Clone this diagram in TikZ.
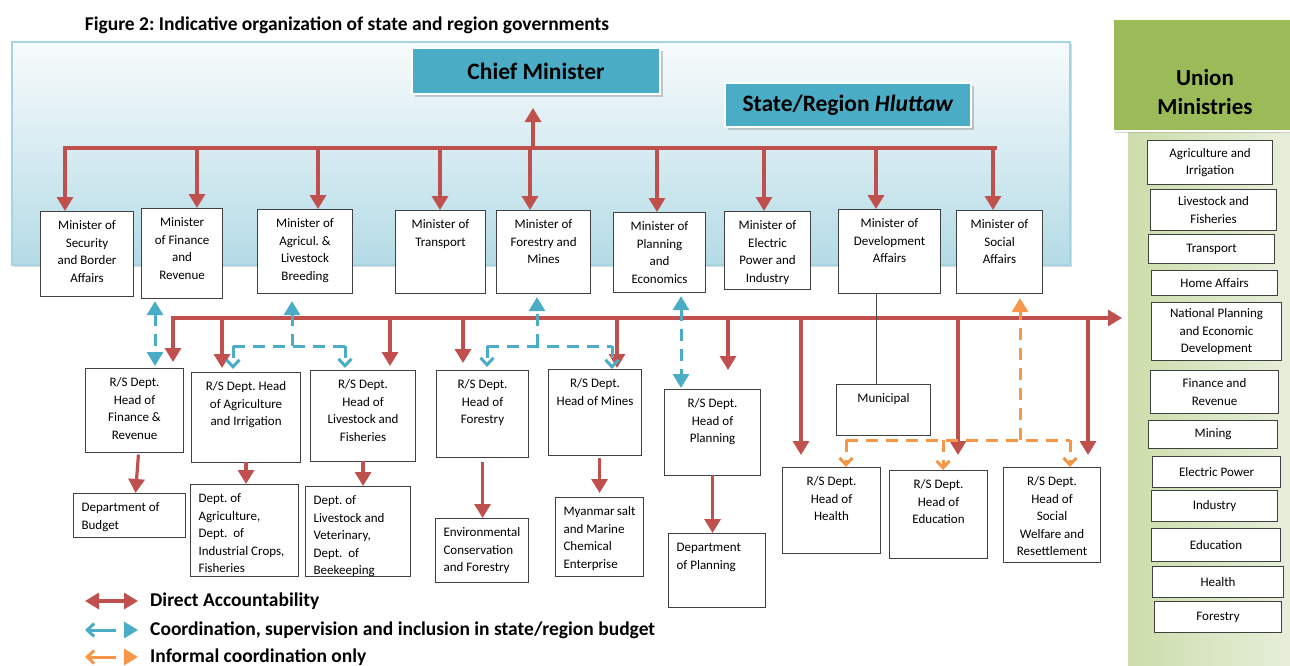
\documentclass[tikz,border=0pt]{standalone}
\usepackage{fontspec}
\setmainfont{Carlito}
\usetikzlibrary{arrows.meta,shadows}

\definecolor{accred}{HTML}{C0504D}
\definecolor{accblue}{HTML}{4BACC6}
\definecolor{accorange}{HTML}{F79646}
\definecolor{accgreen}{HTML}{9BBB59}
\definecolor{paneltop}{HTML}{F8FBFC}
\definecolor{panelbot}{HTML}{B4DBE6}
\definecolor{paneledge}{HTML}{A5D5E2}
\definecolor{colleft}{HTML}{CCDDAA}
\definecolor{colright}{HTML}{E8EFDD}

% Text oben im Kasten (Breite, Hoehe, Text)
\newcommand{\toptext}[3]{\parbox[t][#2pt][t]{#1pt}{\centering\strut #3}}
\newcommand{\toptextl}[3]{\parbox[t][#2pt][t]{#1pt}{\raggedright\strut #3}}

\begin{document}
\frenchspacing
\begin{tikzpicture}[x=1pt,y=-1pt,>={Triangle[width=16pt,length=14pt]}]
  \useasboundingbox (0,0) rectangle (1290,665);
  \clip (0,0) rectangle (1290,665);

  \tikzstyle{box}=[draw=black!75, line width=1.1pt, fill=white, anchor=north west, inner xsep=4pt, inner ysep=6pt, font=\fontsize{13}{17.5}\selectfont]
  \tikzstyle{subbox}=[box, inner xsep=8pt]
  \tikzstyle{unionbox}=[box, inner sep=1pt, align=center]
  \tikzstyle{headbox}=[draw=white, line width=2pt, fill=accblue, drop shadow={opacity=0.4, shadow xshift=3pt, shadow yshift=-3pt}, font=\fontsize{23.5}{26}\selectfont\bfseries]
  \tikzstyle{legend}=[anchor=west, inner sep=0pt, font=\fontsize{19.5}{22}\selectfont\bfseries]
  \tikzstyle{redline}=[draw=accred, line width=3.2pt, line cap=rect]
  \tikzstyle{bluedash}=[draw=accblue, line width=3pt, dash pattern=on 12pt off 8pt]
  \tikzstyle{orangedash}=[draw=accorange, line width=3pt, dash pattern=on 12pt off 8pt]
  \tikzstyle{barb}=[-{Straight Barb[width=13pt,length=7pt]}]

  % Titel
  \node[font=\fontsize{19.5}{22}\selectfont\bfseries] (title) at (347,25) {Figure 2: Indicative organization of state and region governments};

  % Hintergrund Regierung
  \path[shade, top color=paneltop, bottom color=panelbot, draw=paneledge, line width=1.5pt, drop shadow={opacity=0.3}] (12,42) rectangle (1070,265);
  \node[headbox, minimum width=248pt, minimum height=46pt] (chief) at (536,71) {Chief Minister};
  \node[headbox, minimum width=246pt, minimum height=44pt] (hluttaw) at (848,105) {State/Region \textit{Hluttaw}};

  % Union Ministries
  \node[anchor=north west, minimum width=170pt, minimum height=540pt, inner sep=0pt, shade, left color=colleft, right color=colright] (unionCol) at (1128,130) {};
  \node[anchor=north west, draw=white, line width=2pt, fill=accgreen, drop shadow={opacity=0.3}, minimum width=190pt, minimum height=112pt] (unionHead) at (1112,18) {};
  \node[align=center, font=\fontsize{23}{29}\selectfont\bfseries] (unionText) at (1205,92) {Union\\Ministries};

  \node[unionbox, minimum width=125pt, minimum height=44pt] (uAgr) at (1147,140) {Agriculture and\\Irrigation};
  \node[unionbox, minimum width=126pt, minimum height=41pt] (uLiv) at (1150,189) {Livestock and\\Fisheries};
  \node[unionbox, minimum width=126pt, minimum height=29pt] (uTra) at (1148,234) {Transport};
  \node[unionbox, minimum width=126pt, minimum height=25pt] (uHom) at (1151,270) {Home Affairs};
  \node[unionbox, minimum width=130pt, minimum height=58pt] (uNat) at (1151,302) {National Planning\\and Economic\\Development};
  \node[unionbox, minimum width=128pt, minimum height=43pt] (uFin) at (1150,370) {Finance and\\Revenue};
  \node[unionbox, minimum width=129pt, minimum height=28pt] (uMin) at (1148,420) {Mining};
  \node[unionbox, minimum width=128pt, minimum height=31pt] (uEle) at (1152,456) {Electric Power};
  \node[unionbox, minimum width=126pt, minimum height=31pt] (uInd) at (1151,490) {Industry};
  \node[unionbox, minimum width=129pt, minimum height=33pt] (uEdu) at (1151,528) {Education};
  \node[unionbox, minimum width=131pt, minimum height=31pt] (uHea) at (1152,566) {Health};
  \node[unionbox, minimum width=127pt, minimum height=31pt] (uFor) at (1154,601) {Forestry};

  % Minister
  \node[box] (secMin) at (40,211) {\toptext{85}{73}{Minister of\\Security\\and Border\\Affairs}};
  \node[box] (finMin) at (141,208) {\toptext{73}{78}{Minister\\of Finance\\and\\Revenue}};
  \node[box] (agrMin) at (257,209) {\toptext{87}{72}{Minister of\\Agricul. \&\\Livestock\\Breeding}};
  \node[box] (traMin) at (395,210) {\toptext{82}{71}{Minister of\\Transport}};
  \node[box] (forMin) at (496,210) {\toptext{86}{71}{Minister of\\Forestry and\\Mines}};
  \node[box] (plaMin) at (613,212) {\toptext{84}{68}{Minister of\\Planning\\and\\Economics}};
  \node[box] (eleMin) at (724,211) {\toptext{78}{66}{Minister of\\Electric\\Power and\\Industry}};
  \node[box] (devMin) at (838,209) {\toptext{94}{72}{Minister of\\Development\\Affairs}};
  \node[box] (socMin) at (956,210) {\toptext{78}{71}{Minister of\\Social\\Affairs}};

  % R/S Abteilungen
  \node[box] (rsFin) at (85,368) {\toptext{90}{72}{R/S Dept.\\Head of\\Finance \&\\Revenue}};
  \node[box] (rsAgr) at (191,372) {\toptext{101}{78}{R/S Dept. Head\\of Agriculture\\and Irrigation}};
  \node[box] (rsLiv) at (310,370) {\toptext{97}{79}{R/S Dept.\\Head of\\Livestock and\\Fisheries}};
  \node[box] (rsFor) at (436,370) {\toptext{84}{75}{R/S Dept.\\Head of\\Forestry}};
  \node[box] (rsMin) at (548,369) {\toptext{85}{74}{R/S Dept.\\Head of Mines}};
  \node[box] (rsPla) at (664,389) {\toptext{88}{74}{R/S Dept.\\Head of\\Planning}};
  \node[box] (municipal) at (836,384) {\toptext{86}{39}{Municipal}};
  \node[box] (rsHea) at (782,467) {\toptext{90}{74}{R/S Dept.\\Head of\\Health}};
  \node[box] (rsEdu) at (889,470) {\toptext{90}{76}{R/S Dept.\\Head of\\Education}};
  \node[box] (rsSoc) at (1003,467) {\toptext{89}{83}{R/S Dept.\\Head of\\Social\\Welfare and\\Resettlement}};

  % Unterabteilungen
  \node[subbox] (budget) at (73,493) {\toptextl{96}{32}{Department~of\\Budget}};
  \node[subbox] (agrDept) at (190,484) {\toptextl{92}{80}{Dept.~of\\Agriculture,\\Dept.~~of\\Industrial~Crops,\\Fisheries}};
  \node[subbox] (livDept) at (305,486) {\toptextl{89}{78}{Dept.~of\\Livestock~and\\Veterinary,\\Dept.~~of\\Beekeeping}};
  \node[subbox] (envDept) at (435,518) {\toptextl{77}{52}{Environmental\\Conservation\\and~Forestry}};
  \node[subbox] (saltDept) at (555,497) {\toptextl{72}{67}{Myanmar~salt\\and~Marine\\Chemical\\Enterprise}};
  \node[subbox] (plaDept) at (668,533) {\toptextl{81}{62}{Department\\of~Planning}};

  % Verbindung oben
  \coordinate (t1) at (65,148);
  \coordinate (t9) at (995,148);
  \coordinate (cmFoot) at (533,148);
  \draw[redline] (t1) -- (t9);
  \draw[redline, ->, shorten >=13pt] (cmFoot) -- (cmFoot |- chief.south);
  \foreach \x/\n in {65/secMin, 197/finMin, 318/agrMin, 440/traMin, 530/forMin, 657/plaMin, 764/eleMin, 876/devMin, 993/socMin}
    \draw[redline, ->] (\x,148) -- (\x,148 |- \n.north);

  % Verbindung unten
  \coordinate (b0) at (173,318);
  \draw[redline, ->, shorten >=6pt] (b0) -- (b0 -| unionCol.west);
  \foreach \x/\n/\s in {173/rsFin/6pt, 222/rsAgr/4pt, 390/rsLiv/4pt, 463/rsFor/7pt, 617/rsMin/1pt, 728/rsPla/19pt, 801/rsHea/12pt, 958/rsEdu/15pt, 1088/rsSoc/12pt}
    \draw[redline, ->, shorten >=\s] (\x,318) -- (\x,318 |- \n.north);

  \draw[redline, ->, shorten <=3pt] ([xshift=4pt]rsFin.south) -- ([xshift=6pt]budget.north);
  \draw[redline, ->] (rsAgr.south) -- (rsAgr.south |- agrDept.north);
  \draw[redline, ->] (rsLiv.south) -- (rsLiv.south |- livDept.north);
  \draw[redline, ->, shorten <=5pt] (rsFor.south) -- (rsFor.south |- envDept.north);
  \draw[redline, ->, shorten <=3pt, shorten >=4pt] (rsMin.south -| saltDept.north) -- (saltDept.north);
  \draw[redline, ->] (rsPla.south) -- (rsPla.south |- plaDept.north);

  % Koordination (blau)
  \draw[bluedash, <->, shorten <=2pt, shorten >=2pt] (155,300 |- finMin.south) -- (155,300 |- rsFin.north);

  \coordinate (aJ) at (292,346);
  \coordinate (aL) at (233,346);
  \coordinate (aR) at (345,346);
  \draw[bluedash, ->, shorten >=7pt] (aJ) -- (aJ |- agrMin.south);
  \draw[bluedash] (aL) -- (aR);
  \draw[bluedash, barb, shorten >=3pt] (aL) -- (aL |- rsAgr.north);
  \draw[bluedash, barb, shorten >=2pt] (aR) -- (aR |- rsLiv.north);

  \coordinate (fJ) at (537,346);
  \coordinate (fL) at (487,346);
  \coordinate (fR) at (612,346);
  \draw[bluedash, ->, shorten >=3pt] (fJ) -- (fJ |- forMin.south);
  \draw[bluedash] (fL) -- (fR);
  \draw[bluedash, barb, shorten >=3pt] (fL) -- (fL |- rsFor.north);
  \draw[bluedash, barb] (fR) -- (fR |- rsMin.north);

  \draw[bluedash, <->, shorten <=3pt, shorten >=1pt] (681,300 |- plaMin.south) -- (681,300 |- rsPla.north);

  % Informell (orange)
  \coordinate (oJ) at (1020,440);
  \coordinate (oL) at (846,440);
  \coordinate (oM) at (943,440);
  \coordinate (oR) at (1070,440);
  \draw[orangedash, ->, shorten >=4pt] (oJ) -- (oJ |- socMin.south);
  \draw[orangedash] (oL) -- (oR);
  \foreach \c/\n in {oL/rsHea, oM/rsEdu, oR/rsSoc}
    \draw[orangedash, barb] (\c) -- (\c |- \n.north);

  % Municipal
  \draw[black!70, line width=1pt] (876,300 |- devMin.south) -- (876,300 |- municipal.north);

  % Legende
  \coordinate (lr1) at (85,601);
  \coordinate (lr2) at (138,601);
  \coordinate (lb1) at (85,630);
  \coordinate (lb2) at (138,630);
  \coordinate (lo1) at (85,657);
  \coordinate (lo2) at (138,657);
  \draw[redline, line cap=butt, <->] (lr1) -- (lr2);
  \draw[bluedash, dash pattern=on 27pt off 8pt, {Straight Barb[width=13pt,length=7pt]}->] (lb1) -- (lb2);
  \draw[orangedash, dash pattern=on 27pt off 8pt, {Straight Barb[width=13pt,length=7pt]}->] (lo1) -- (lo2);
  \node[legend] (legRed) at (150,601) {Direct Accountability};
  \node[legend] (legBlue) at (150,630) {Coordination, supervision and inclusion in state/region budget};
  \node[legend] (legOrange) at (150,657) {Informal coordination only};
\end{tikzpicture}
\end{document}
